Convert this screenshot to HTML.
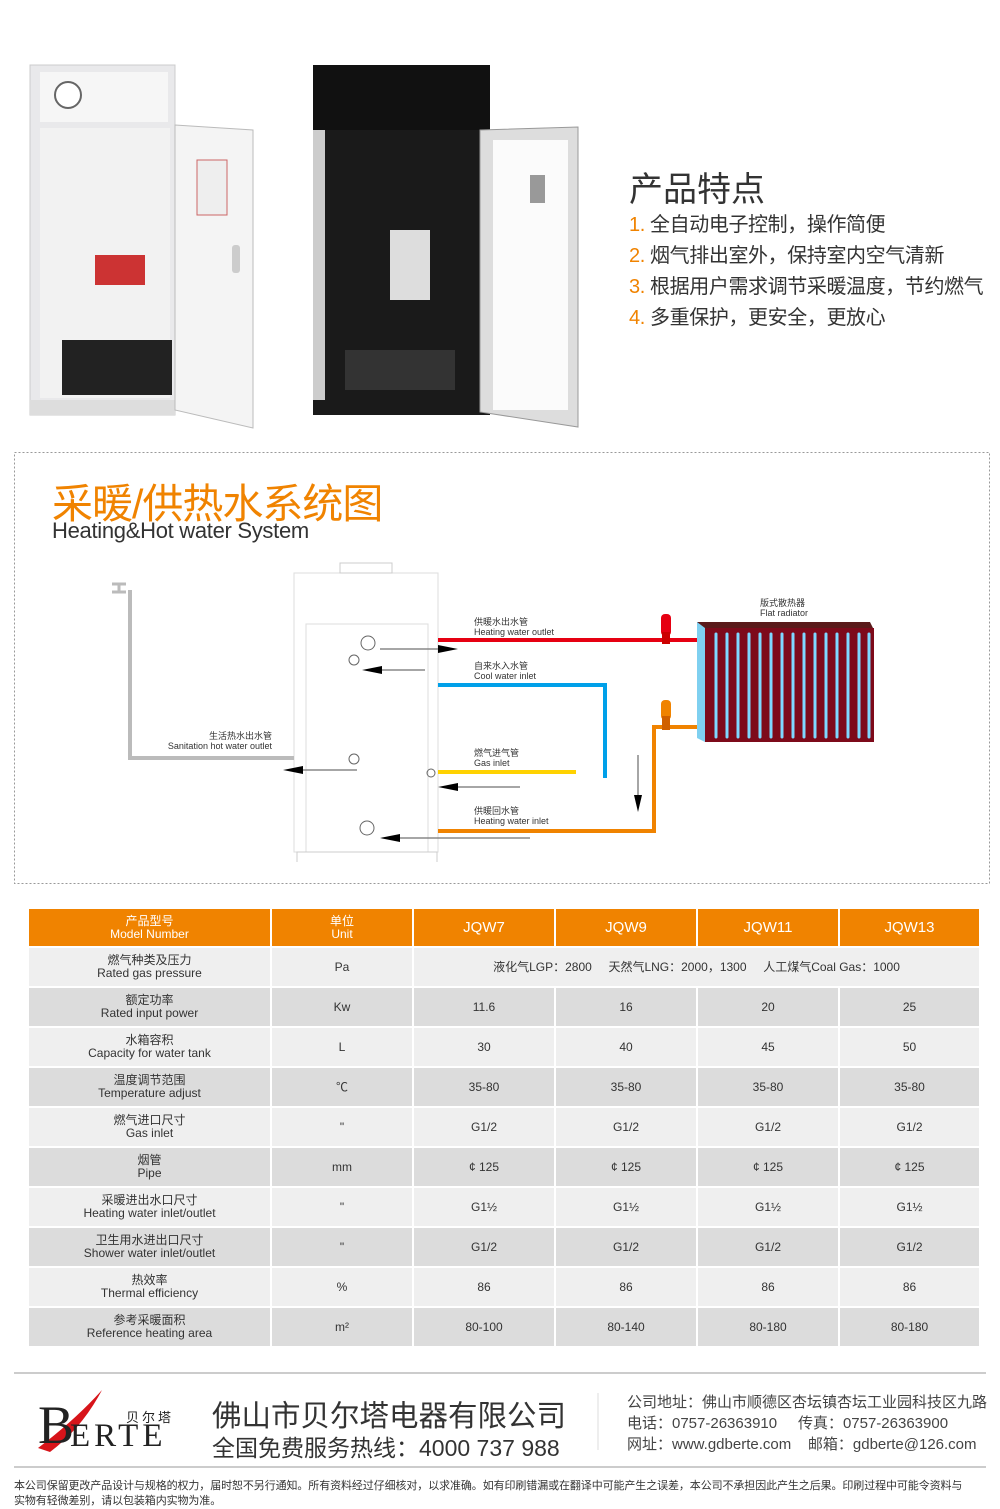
<!DOCTYPE html>
<html><head><meta charset="utf-8"><style>
*{margin:0;padding:0;box-sizing:border-box}
body{width:1000px;height:1507px;background:#fff;position:relative;overflow:hidden;font-family:"Liberation Sans","Noto Sans CJK SC",sans-serif;color:#333}
.a{position:absolute;white-space:nowrap}
table{position:absolute;left:27px;top:907px;border-collapse:collapse;width:952px;table-layout:fixed}
td{height:40px;text-align:center;font-size:12px;color:#333;border:2px solid #fff;line-height:13px;overflow:hidden}
tr.h td{background:#f08300;color:#fff;height:39px}
tr.l td{background:#efefef}
tr.d td{background:#dcdcdc}
.lb{font-size:9px;line-height:10px;color:#333}
</style></head><body>
<svg class="a" style="left:0;top:0" width="1000" height="1507">
<rect x="30" y="65" width="145" height="350" fill="#e9e9eb" stroke="#ccc"/>
<rect x="40" y="72" width="128" height="50" fill="#f6f6f6"/>
<circle cx="68" cy="95" r="13" fill="#fff" stroke="#666" stroke-width="2"/>
<rect x="40" y="128" width="130" height="270" fill="#f2f2f2"/>
<rect x="95" y="255" width="50" height="30" fill="#c33"/>
<rect x="62" y="340" width="110" height="55" fill="#222"/>
<rect x="30" y="400" width="145" height="15" fill="#ddd"/>
<polygon points="175,125 253,130 253,428 175,410" fill="#f4f4f4" stroke="#bbb"/>
<rect x="197" y="160" width="30" height="55" fill="#eee" stroke="#c66"/>
<rect x="232" y="245" width="8" height="28" rx="3" fill="#ccc"/>
<rect x="313" y="65" width="177" height="350" fill="#1a1a1a"/>
<rect x="313" y="65" width="177" height="65" fill="#111"/>
<rect x="313" y="130" width="12" height="270" fill="#ccc"/>
<rect x="390" y="230" width="40" height="70" fill="#ddd"/>
<rect x="345" y="350" width="110" height="40" fill="#333"/>
<polygon points="480,130 578,127 578,427 480,412" fill="#ddd" stroke="#999"/>
<rect x="493" y="140" width="75" height="270" fill="#fbfbfb"/>
<rect x="530" y="175" width="15" height="28" fill="#999"/>
<rect x="14.5" y="452.5" width="975" height="431" fill="none" stroke="#999" stroke-dasharray="2,2"/>
<rect x="294" y="573" width="144" height="279" fill="#fff" stroke="#ddd"/>
<rect x="340" y="563" width="52" height="10" fill="#fff" stroke="#ccc"/>
<rect x="306" y="624" width="122" height="228" fill="#fff" stroke="#ddd"/>
<path d="M297 862V852H437V862" fill="none" stroke="#ccc"/>
<path d="M130 590V758H294" fill="none" stroke="#bbb" stroke-width="4"/>
<path d="M112 592h14M119 584v8M112 584h14" stroke="#bbb" stroke-width="3" fill="none"/>
<path d="M438 640H697" stroke="#e60012" stroke-width="4"/>
<path d="M438 685H605V778" fill="none" stroke="#00a0e9" stroke-width="4"/>
<path d="M438 772H576" stroke="#ffd200" stroke-width="4"/>
<path d="M438 831H654V727H697" fill="none" stroke="#f08300" stroke-width="4"/>
<rect x="661" y="614" width="10" height="22" rx="4" fill="#e60012"/>
<rect x="662" y="632" width="8" height="12" fill="#c00"/>
<rect x="661" y="700" width="10" height="20" rx="4" fill="#f08300"/>
<rect x="662" y="716" width="8" height="14" fill="#d06000"/>
<polygon points="697,622 870,622 874,630 705,630" fill="#5a1a1a"/>
<rect x="705" y="628" width="169" height="114" fill="#7d0a1a"/>
<polygon points="697,622 705,628 705,742 697,738" fill="#7fd0f0"/>
<g stroke="#7fd8ff" stroke-width="3" stroke-linecap="round">
<path d="M716 634V737M727 634V737M738 634V737M749 634V737M760 634V737M771 634V737M782 634V737M793 634V737M804 634V737M815 634V737M826 634V737M837 634V737M848 634V737M859 634V737M869 634V737"/>
</g>
<g fill="none" stroke="#666">
<circle cx="368" cy="643" r="7"/><circle cx="354" cy="660" r="5"/><circle cx="354" cy="759" r="5"/><circle cx="367" cy="828" r="7"/><circle cx="431" cy="773" r="4"/>
</g>
<g stroke="#888" stroke-width="1.5">
<path d="M380 649H440M375 670H425M296 770H357M450 787H520M393 838H530M638 755V800"/>
</g>
<g fill="#000">
<polygon points="438,645 458,649 438,653"/>
<polygon points="382,666 362,670 382,674"/>
<polygon points="303,766 283,770 303,774"/>
<polygon points="458,783 438,787 458,791"/>
<polygon points="400,834 380,838 400,842"/>
<polygon points="634,795 638,812 642,795"/>
</g>
<line x1="14" y1="1373" x2="986" y2="1373" stroke="#ccc" stroke-width="2"/>
<line x1="14" y1="1467" x2="986" y2="1467" stroke="#ccc" stroke-width="2"/>
<line x1="598" y1="1393" x2="598" y2="1450" stroke="#ddd"/>
<path d="M38 1448 Q75 1420 102 1390 Q82 1428 50 1452Z" fill="#d7141a"/>
</svg>

<div class="a" style="left:629px;top:162px;font-size:34px;color:#333">产品特点</div>
<div class="a" style="left:629px;top:210px;font-size:20px;line-height:31px;color:#333;letter-spacing:-0.4px">
<span style="color:#f08300">1.</span> 全自动电子控制，操作简便<br>
<span style="color:#f08300">2.</span> 烟气排出室外，保持室内空气清新<br>
<span style="color:#f08300">3.</span> 根据用户需求调节采暖温度，节约燃气<br>
<span style="color:#f08300">4.</span> 多重保护，更安全，更放心</div>

<div class="a" style="left:52px;top:470px;font-size:41px;color:#f08300;letter-spacing:-1px">采暖/供热水系统图</div>
<div class="a" style="left:52px;top:518px;font-size:22px;color:#333;letter-spacing:-0.3px">Heating&amp;Hot water System</div>

<div class="a lb" style="left:474px;top:617px">供暖水出水管<br>Heating water outlet</div>
<div class="a lb" style="left:474px;top:661px">自来水入水管<br>Cool water inlet</div>
<div class="a lb" style="left:474px;top:748px">燃气进气管<br>Gas inlet</div>
<div class="a lb" style="left:474px;top:806px">供暖回水管<br>Heating water inlet</div>
<div class="a lb" style="left:760px;top:598px">版式散热器<br>Flat radiator</div>
<div class="a lb" style="left:162px;top:731px;text-align:right;width:110px">生活热水出水管<br>Sanitation hot water outlet</div>

<table>
<colgroup><col style="width:243px"><col style="width:142px"><col style="width:142px"><col style="width:142px"><col style="width:142px"><col style="width:141px"></colgroup>
<tr class="h"><td>产品型号<br>Model Number</td><td>单位<br>Unit</td><td style="font-size:15px">JQW7</td><td style="font-size:15px">JQW9</td><td style="font-size:15px">JQW11</td><td style="font-size:15px">JQW13</td></tr>
<tr class="l"><td>燃气种类及压力<br>Rated gas pressure</td><td>Pa</td><td colspan="4">液化气LGP：2800 &nbsp;&nbsp;&nbsp; 天然气LNG：2000，1300 &nbsp;&nbsp;&nbsp; 人工煤气Coal Gas：1000</td></tr>
<tr class="d"><td>额定功率<br>Rated input power</td><td>Kw</td><td>11.6</td><td>16</td><td>20</td><td>25</td></tr>
<tr class="l"><td>水箱容积<br>Capacity for water tank</td><td>L</td><td>30</td><td>40</td><td>45</td><td>50</td></tr>
<tr class="d"><td>温度调节范围<br>Temperature adjust</td><td>℃</td><td>35-80</td><td>35-80</td><td>35-80</td><td>35-80</td></tr>
<tr class="l"><td>燃气进口尺寸<br>Gas inlet</td><td>"</td><td>G1/2</td><td>G1/2</td><td>G1/2</td><td>G1/2</td></tr>
<tr class="d"><td>烟管<br>Pipe</td><td>mm</td><td>¢ 125</td><td>¢ 125</td><td>¢ 125</td><td>¢ 125</td></tr>
<tr class="l"><td>采暖进出水口尺寸<br>Heating water inlet/outlet</td><td>"</td><td>G1½</td><td>G1½</td><td>G1½</td><td>G1½</td></tr>
<tr class="d"><td>卫生用水进出口尺寸<br>Shower water inlet/outlet</td><td>"</td><td>G1/2</td><td>G1/2</td><td>G1/2</td><td>G1/2</td></tr>
<tr class="l"><td>热效率<br>Thermal efficiency</td><td>%</td><td>86</td><td>86</td><td>86</td><td>86</td></tr>
<tr class="d"><td>参考采暖面积<br>Reference heating area</td><td>m²</td><td>80-100</td><td>80-140</td><td>80-180</td><td>80-180</td></tr>
</table>

<div class="a" style="left:38px;top:1398px;font-family:'Liberation Serif',serif;font-size:54px;color:#222;line-height:54px">B</div>
<div class="a" style="left:70px;top:1418px;font-family:'Liberation Serif',serif;font-size:33px;color:#222;letter-spacing:4px">ERTE</div>
<div class="a" style="left:126px;top:1407px;font-size:13px;color:#222;letter-spacing:3px">贝尔塔</div>
<div class="a" style="left:212px;top:1393px;font-size:29.5px;color:#333">佛山市贝尔塔电器有限公司</div>
<div class="a" style="left:212px;top:1429px;font-size:23px;color:#333">全国免费服务热线：4000 737 988</div>
<div class="a" style="left:627px;top:1392px;font-size:15px;line-height:21px;color:#444">公司地址：佛山市顺德区杏坛镇杏坛工业园科技区九路<br>电话：0757-26363910 &nbsp;&nbsp;&nbsp; 传真：0757-26363900<br>网址：www.gdberte.com &nbsp;&nbsp; 邮箱：gdberte@126.com</div>
<div class="a" style="left:14px;top:1479px;font-size:11px;line-height:15px;color:#333;letter-spacing:-0.1px">本公司保留更改产品设计与规格的权力，届时恕不另行通知。所有资料经过仔细核对，以求准确。如有印刷错漏或在翻译中可能产生之误差，本公司不承担因此产生之后果。印刷过程中可能令资料与<br>实物有轻微差别，请以包装箱内实物为准。</div>
</body></html>
